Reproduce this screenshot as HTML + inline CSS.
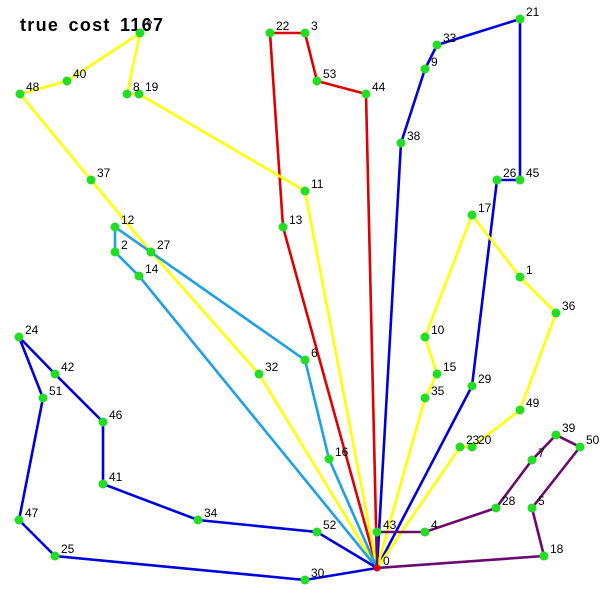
<!DOCTYPE html>
<html><head><meta charset="utf-8"><style>
html,body{margin:0;padding:0;background:#fff;width:600px;height:600px;overflow:hidden}
svg text{font-family:"Liberation Sans",sans-serif}
</style></head><body>
<svg id="chart" width="600" height="600" viewBox="0 0 600 600">
<text x="20" y="31" font-size="18" font-weight="bold" fill="#000" letter-spacing="1.3" word-spacing="3">true cost 1167</text>
</svg>
<script>
const nodeIds = [0,22,3,53,44,13,38,9,33,21,45,26,29,11,19,8,7,40,48,37,27,32,35,15,10,17,1,36,49,20,23,16,6,12,2,14,52,34,41,46,42,24,51,47,25,30,43,4,28,71,39,50,5,18];
const nodeX = [377,270,305,317,366,283,401,425,437,520,520,497,472,305,139,127,140,67,20,91,151,259,425,437,425,472,520,556,520,472,460,329,305,115,115,139,317,198,103,103,55,19,43,19,55,305,377,425,496,532,556,580,532,544];
const nodeY = [568,33,33,81,94,227,143,69,45,19,180,180,386,191,94,94,33,81,94,180,252,374,398,374,337,215,277,313,410,447,447,459,360,227,252,276,532,520,484,422,374,337,398,520,556,580,532,532,508,460,435,447,508,556];
const nodeLabels = ["0","22","3","53","44","13","38","9","33","21","45","26","29","11","19","8","7","40","48","37","27","32","35","15","10","17","1","36","49","20","23","16","6","12","2","14","52","34","41","46","42","24","51","47","25","30","43","4","28","7","39","50","5","18"];
const routeColors = ["#e00000","#0000dd","#ffff00","#ffff00","#1ea0e6","#0000dd","#6a0a6e"];
const routes = [
 [0,13,22,3,53,44,0],
 [0,38,9,33,21,45,26,29,0],
 [0,11,19,8,7,40,48,37,27,32,0],
 [0,35,15,10,17,1,36,49,20,23,0],
 [0,16,6,12,2,14,0],
 [0,52,34,41,46,42,24,51,47,25,30,0],
 [0,43,4,28,71,39,50,5,18,0]
];
const svg = document.getElementById('chart');
const NS = 'http://www.w3.org/2000/svg';
function px(id){return nodeX[nodeIds.indexOf(id)];}
function py(id){return nodeY[nodeIds.indexOf(id)];}
routes.forEach((r,i)=>{
  const pl = document.createElementNS(NS,'polyline');
  pl.setAttribute('points', r.map(id=>px(id)+','+py(id)).join(' '));
  pl.setAttribute('fill','none');
  pl.setAttribute('stroke',routeColors[i]);
  pl.setAttribute('stroke-width','2.6');
  
  
  svg.appendChild(pl);
});
nodeIds.forEach((id,k)=>{
  const c = document.createElementNS(NS,'circle');
  c.setAttribute('cx',nodeX[k]); c.setAttribute('cy',nodeY[k]);
  c.setAttribute('r', k===0?3.5:4.5);
  c.setAttribute('fill', k===0?'#e00000':'#22dd22');
  
  
  svg.appendChild(c);
  const t = document.createElementNS(NS,'text');
  t.setAttribute('x',nodeX[k]+6); t.setAttribute('y',nodeY[k]-3);
  t.setAttribute('font-size','12'); t.setAttribute('fill','#000');
  t.textContent = nodeLabels[k];
  
  
  svg.appendChild(t);
});
</script>
</body></html>
